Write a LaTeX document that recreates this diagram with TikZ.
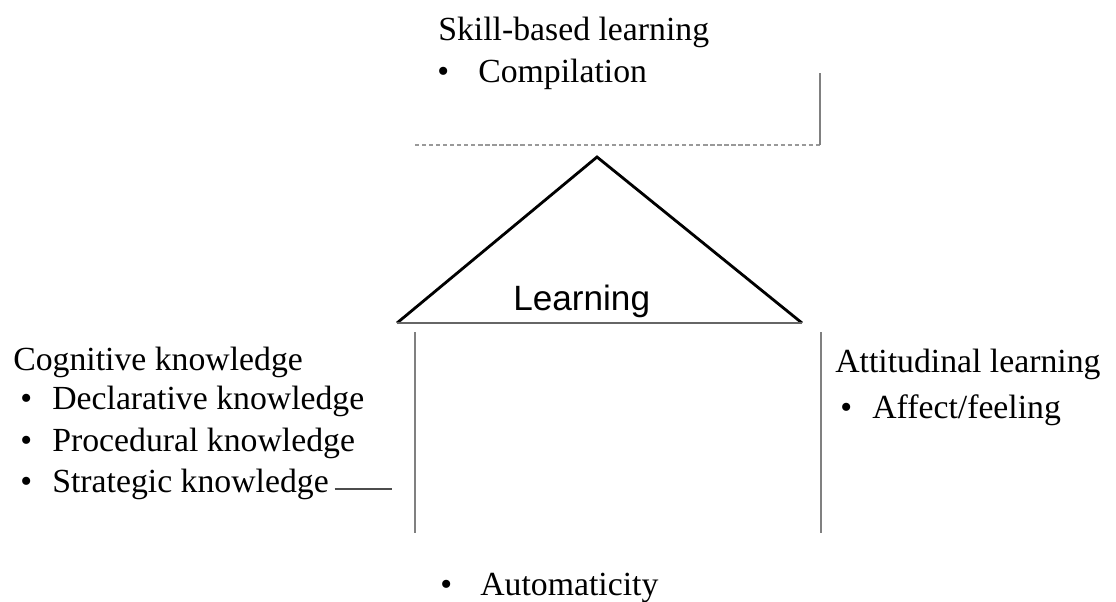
\documentclass[tikz,border=0pt]{standalone}
\usepackage{fontspec}
\setmainfont{Liberation Serif}
\newfontfamily\lsans{Liberation Sans}
\begin{document}
\begin{tikzpicture}[x=0.025cm,y=-0.025cm,
    txt/.style={anchor=base west,inner sep=0pt,font=\fontsize{24}{29}\selectfont},
    rule/.style={draw=black!50,line width=1.8pt}]
        \useasboundingbox (0,0) rectangle (1116,601);
        % Skill-based learning
        \node[txt] (skill) at (438,40) {Skill-based learning};
        \node[txt] (compb) at (437,82) {\textbullet};
        \node[txt] (comp) at (478,82) {Compilation};
        \coordinate (boxl) at (415,145);
        \coordinate (boxr) at (822,145);
        \coordinate (boxt) at (820,73);
        \draw [black!40,line width=1.2pt,dash pattern=on 3pt off 2pt] (boxl) -- (boxr);
        \draw [rule] (boxt) -- (boxt |- boxr);
        % Triangolo
        \coordinate (top) at (597,157);
        \coordinate (bl) at (397,323);
        \coordinate (br) at (802,323);
        \draw [line width=2pt] (bl) -- (top) -- (br);
        \draw [rule,draw=black!60] (bl) -- (br);
        \node[txt,font=\lsans\fontsize{25}{30}\selectfont] (learn) at (513,310) {Learning};
        % Cognitive knowledge
        \node[txt] (cogn) at (13,370) {Cognitive knowledge};
        \node[txt] (declb) at (20,409) {\textbullet};
        \node[txt] (decl) at (52,409) {Declarative knowledge};
        \node[txt] (procb) at (20,451) {\textbullet};
        \node[txt] (proc) at (52,451) {Procedural knowledge};
        \node[txt] (stratb) at (20,492) {\textbullet};
        \node[txt] (strat) at (52,492) {Strategic knowledge};
        \coordinate (uline) at (392,489);
        \coordinate (lt) at (415,332);
        \coordinate (lb) at (415,533);
        \draw [black!70,line width=1.4pt] ([xshift=4pt]strat.base east |- uline) -- (uline);
        \draw [rule] (lt) -- (lb);
        % Attitudinal learning
        \coordinate (rt) at (821,332);
        \coordinate (rb) at (821,533);
        \draw [rule] (rt) -- (rb);
        \node[txt] (atti) at (835,372) {Attitudinal learning};
        \node[txt] (affb) at (840,418) {\textbullet};
        \node[txt] (aff) at (872,418) {Affect/feeling};
        % Automaticity
        \node[txt] (autob) at (440,595) {\textbullet};
        \node[txt] (auto) at (480,595) {Automaticity};
    \end{tikzpicture}
\end{document}
